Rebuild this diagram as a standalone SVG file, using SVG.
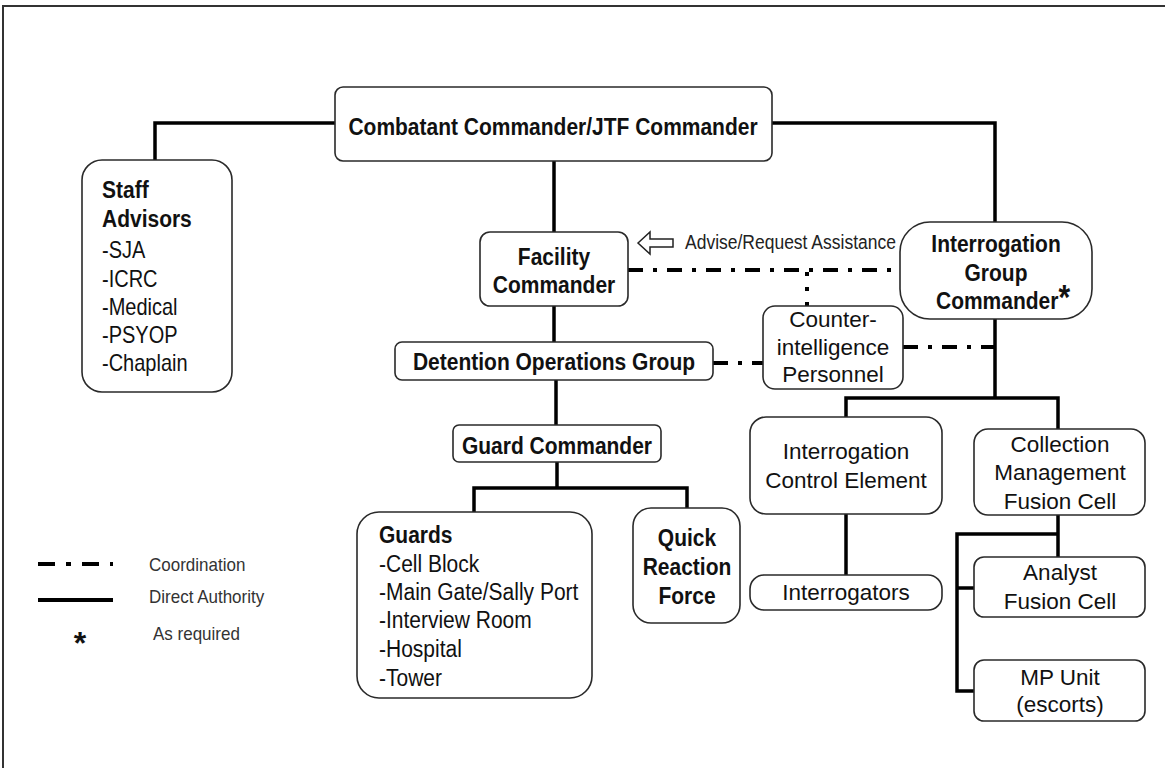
<svg xmlns="http://www.w3.org/2000/svg" width="1165" height="768" viewBox="0 0 1165 768">
<style>
.box{fill:#fff;stroke:#2a2a2a;stroke-width:1.6}
.ln{fill:none;stroke:#000;stroke-width:3.5}
.co{fill:none;stroke:#000;stroke-width:4;stroke-dasharray:15 10 4 10}
.dot{fill:none;stroke:#000;stroke-width:4;stroke-dasharray:4 11}
text{font-family:"Liberation Sans",Arial,sans-serif;fill:#111}
.b{font-weight:bold;font-size:21px}
.r{font-size:20px}
.m{font-size:22.5px}
.lg{font-size:17px;fill:#333}
.c{text-anchor:middle}
</style>
<rect x="0" y="0" width="1165" height="768" fill="#fff"/>
<path d="M3,768 V6 H1165" fill="none" stroke="#333" stroke-width="2"/>

<g id="connectors">
<path class="ln" d="M335,123 H155 V160"/>
<path class="ln" d="M772,123 H995 V222"/>
<path class="ln" d="M554,161 V232"/>
<path class="ln" d="M554,306 V342"/>
<path class="ln" d="M556,380 V425"/>
<path class="ln" d="M557,462 V488 M474,512 V488 H687 V508"/>
<path class="ln" d="M995,319 V398 M846,417 V398 H1058 V429"/>
<path class="ln" d="M846,514 V575"/>
<path class="ln" d="M1058,515 V557 M1058,534 H957 V691 H974 M957,588 H974"/>
<path class="co" d="M628,270 H900"/>
<path class="dot" d="M807,272 V306"/>
<path class="co" d="M713,363 H763"/>
<path class="co" d="M903,347 H995"/>
<polygon points="638,243 650,232 650,239 673,239 673,247 650,247 650,254" fill="#fff" stroke="#222" stroke-width="1.5"/>
<text class="r" style="font-size:17.5px;fill:#222" transform="translate(685,249) scale(1,1.2)">Advise/Request Assistance</text>
</g>

<g id="combatant">
<rect class="box" x="335" y="87" width="437" height="74" rx="8"/>
<text class="b c" transform="translate(553,135) scale(1,1.15)">Combatant Commander/JTF Commander</text>
</g>

<g id="staff">
<rect class="box" x="82" y="160" width="150" height="232" rx="20"/>
<text class="b" transform="translate(102,198) scale(1,1.15)">Staff</text>
<text class="b" transform="translate(102,227) scale(1,1.15)">Advisors</text>
<text class="r" transform="translate(102,258) scale(1,1.2)">-SJA</text>
<text class="r" transform="translate(102,286.5) scale(1,1.2)">-ICRC</text>
<text class="r" transform="translate(102,315) scale(1,1.2)">-Medical</text>
<text class="r" transform="translate(102,343) scale(1,1.2)">-PSYOP</text>
<text class="r" transform="translate(102,371) scale(1,1.2)">-Chaplain</text>
</g>

<g id="facility">
<rect class="box" x="480" y="232" width="148" height="74" rx="10"/>
<text class="b c" transform="translate(554,265) scale(1,1.15)">Facility</text>
<text class="b c" transform="translate(554,293) scale(1,1.15)">Commander</text>
</g>

<g id="detention">
<rect class="box" x="395" y="342" width="318" height="38" rx="7"/>
<text class="b c" transform="translate(554,370) scale(1,1.15)">Detention Operations Group</text>
</g>

<g id="counterintel">
<rect class="box" x="763" y="306" width="140" height="83" rx="12"/>
<text class="m c" transform="translate(833,327)">Counter-</text>
<text class="m c" transform="translate(833,354.5)">intelligence</text>
<text class="m c" transform="translate(833,382)">Personnel</text>
</g>

<g id="igc">
<rect class="box" x="900" y="222" width="192" height="97" rx="30"/>
<text class="b c" transform="translate(996,252) scale(1,1.15)">Interrogation</text>
<text class="b c" transform="translate(996,280.5) scale(1,1.15)">Group</text>
<text class="b" transform="translate(936,309) scale(1,1.15)">Commander<tspan style="font-size:30px">*</tspan></text>
</g>

<g id="guardcmd">
<rect class="box" x="453" y="425" width="208" height="37" rx="6"/>
<text class="b c" transform="translate(557,454) scale(1,1.15)">Guard Commander</text>
</g>

<g id="guards">
<rect class="box" x="357" y="512" width="235" height="186" rx="22"/>
<text class="b" transform="translate(379,543) scale(1,1.15)">Guards</text>
<text class="r" style="font-size:21px" transform="translate(379,572) scale(1,1.15)">-Cell Block</text>
<text class="r" style="font-size:21px" transform="translate(379,600) scale(1,1.15)">-Main Gate/Sally Port</text>
<text class="r" style="font-size:21px" transform="translate(379,628) scale(1,1.15)">-Interview Room</text>
<text class="r" style="font-size:21px" transform="translate(379,657) scale(1,1.15)">-Hospital</text>
<text class="r" style="font-size:21px" transform="translate(379,686) scale(1,1.15)">-Tower</text>
</g>

<g id="qrf">
<rect class="box" x="633" y="508" width="107" height="115" rx="18"/>
<text class="b c" transform="translate(687,546) scale(1,1.15)">Quick</text>
<text class="b c" transform="translate(687,575) scale(1,1.15)">Reaction</text>
<text class="b c" transform="translate(687,604) scale(1,1.15)">Force</text>
</g>

<g id="ice">
<rect class="box" x="750" y="417" width="192" height="97" rx="16"/>
<text class="m c" transform="translate(846,459)">Interrogation</text>
<text class="m c" transform="translate(846,488)">Control Element</text>
</g>

<g id="interrogators">
<rect class="box" x="750" y="575" width="192" height="35" rx="14"/>
<text class="m c" transform="translate(846,600)">Interrogators</text>
</g>

<g id="cmfc">
<rect class="box" x="974" y="429" width="171" height="86" rx="14"/>
<text class="m c" transform="translate(1060,452)">Collection</text>
<text class="m c" transform="translate(1060,480)">Management</text>
<text class="m c" transform="translate(1060,509)">Fusion Cell</text>
</g>

<g id="afc">
<rect class="box" x="974" y="557" width="171" height="60" rx="10"/>
<text class="m c" transform="translate(1060,580)">Analyst</text>
<text class="m c" transform="translate(1060,609)">Fusion Cell</text>
</g>

<g id="mp">
<rect class="box" x="974" y="660" width="171" height="61" rx="10"/>
<text class="m c" transform="translate(1060,685)">MP Unit</text>
<text class="m c" transform="translate(1060,712)">(escorts)</text>
</g>

<g id="legend">
<path d="M38,564 H113" fill="none" stroke="#000" stroke-width="4" stroke-dasharray="17 11 5 11"/>
<path d="M38,600 H113" fill="none" stroke="#000" stroke-width="4"/>
<text class="lg" transform="translate(149,571) scale(1,1.1)">Coordination</text>
<text class="lg" transform="translate(149,603) scale(1,1.1)">Direct Authority</text>
<text class="b c" style="font-size:32px" transform="translate(80,654)">*</text>
<text class="lg" transform="translate(153,640) scale(1,1.1)">As required</text>
</g>
</svg>
